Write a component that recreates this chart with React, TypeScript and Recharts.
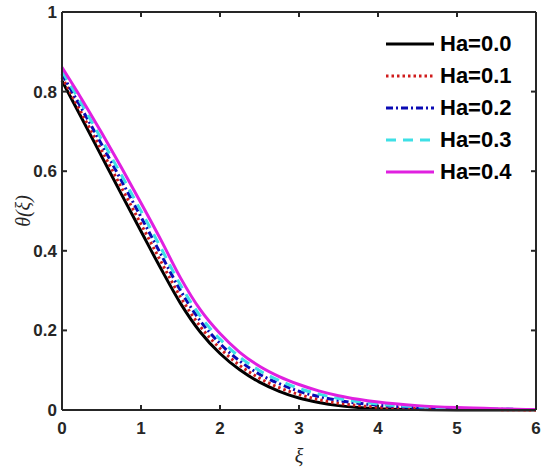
import { Legend, Line, LineChart, XAxis, YAxis } from "recharts";

// similarity variable
const xi = [0, 0.25, 0.5, 0.75, 1, 1.25, 1.5, 1.75, 2, 2.25, 2.5, 2.75, 3, 3.25, 3.5, 3.75, 4, 4.5, 5, 5.5, 6];

// theta(xi) for each Hartmann number
const ha00 = [0.827, 0.733, 0.638, 0.543, 0.449, 0.356, 0.268, 0.196, 0.142, 0.101, 0.07, 0.047, 0.03, 0.019, 0.011, 0.006, 0.003, 0.001, 0, 0, 0];
const ha01 = [0.836, 0.745, 0.653, 0.56, 0.467, 0.374, 0.284, 0.21, 0.155, 0.112, 0.08, 0.056, 0.039, 0.026, 0.017, 0.011, 0.007, 0.004, 0.002, 0.001, 0];
const ha02 = [0.844, 0.757, 0.668, 0.577, 0.485, 0.392, 0.3, 0.224, 0.167, 0.123, 0.09, 0.066, 0.047, 0.034, 0.024, 0.017, 0.012, 0.006, 0.003, 0.002, 0.001];
const ha03 = [0.851, 0.768, 0.68, 0.591, 0.5, 0.408, 0.314, 0.236, 0.178, 0.133, 0.099, 0.074, 0.054, 0.04, 0.029, 0.021, 0.015, 0.008, 0.004, 0.002, 0.001];
const ha04 = [0.861, 0.781, 0.697, 0.61, 0.52, 0.428, 0.332, 0.252, 0.192, 0.145, 0.11, 0.084, 0.064, 0.048, 0.036, 0.027, 0.02, 0.011, 0.006, 0.003, 0.001];

const xTicks = [0, 1, 2, 3, 4, 5, 6];
const yTicks = [0, 0.2, 0.4, 0.6, 0.8, 1];

const data = xi.map((x, i) => ({
  xi: x,
  ha00: ha00[i],
  ha01: ha01[i],
  ha02: ha02[i],
  ha03: ha03[i],
  ha04: ha04[i],
}));

// the last curve sits on the mirrored (top/right) axes so the box axes get drawn;
// both pairs share the same fixed domains
const series = [
  { key: "ha00", name: "Ha=0.0", color: "#000000", dash: undefined, xId: 0, yId: 0 },
  { key: "ha01", name: "Ha=0.1", color: "#d01c1c", dash: "2.5 3", xId: 0, yId: 0 },
  { key: "ha02", name: "Ha=0.2", color: "#0a0ab4", dash: "7 3 2 3", xId: 0, yId: 0 },
  { key: "ha03", name: "Ha=0.3", color: "#3ee0e6", dash: "10 7", xId: 0, yId: 0 },
  { key: "ha04", name: "Ha=0.4", color: "#e020e0", dash: undefined, xId: "top", yId: "right" },
];

const AXIS = "#262626";
const tickStyle = {
  fill: AXIS,
  fontSize: 17,
  fontWeight: "bold",
  fontFamily: "'Liberation Sans', Arial, sans-serif",
};
// mirrored axes keep their labels but paint them transparent
const hiddenTick = { fill: "transparent", fontSize: 6 };

function LegendBox() {
  return (
    <div style={{ fontFamily: "'Liberation Sans', Arial, sans-serif" }}>
      {series.map((s) => (
        <div key={s.key} style={{ display: "flex", alignItems: "center", height: 32 }}>
          <svg width={50} height={32}>
            <line
              x1={0}
              x2={48}
              y1={16}
              y2={16}
              stroke={s.color}
              strokeWidth={3}
              strokeDasharray={s.dash}
            />
          </svg>
          <span style={{ fontSize: 22, fontWeight: "bold", color: "#000", marginLeft: 4, lineHeight: "32px" }}>
            {s.name}
          </span>
        </div>
      ))}
    </div>
  );
}

export default function App() {
  return (
    <div style={{ position: "absolute", left: 0, top: 0, width: 550, height: 473, background: "#fff" }}>
      <LineChart width={550} height={473} data={data} margin={{ top: 0, right: 0, bottom: 23, left: 12 }}>
        <XAxis
          dataKey="xi"
          type="number"
          domain={[0, 6]}
          ticks={xTicks}
          height={40}
          stroke={AXIS}
          strokeWidth={2}
          tickSize={-5}
          tickMargin={17}
          tick={tickStyle}
          label={(props: any) => {
            const vb = props.viewBox;
            return (
              <text
                x={vb.x + vb.width / 2}
                y={vb.y + 46}
                textAnchor="middle"
                dominantBaseline="central"
                fontFamily="'Liberation Serif', 'Times New Roman', serif"
                fontStyle="italic"
                fontSize={20}
                fill={AXIS}
              >
                ξ
              </text>
            );
          }}
        />
        <XAxis
          xAxisId="top"
          orientation="top"
          dataKey="xi"
          type="number"
          domain={[0, 6]}
          ticks={xTicks}
          height={12}
          stroke={AXIS}
          strokeWidth={2}
          tickSize={-5}
          tick={hiddenTick}
        />
        <YAxis
          type="number"
          domain={[0, 1]}
          ticks={yTicks}
          width={50}
          stroke={AXIS}
          strokeWidth={2}
          tickSize={-5}
          tickMargin={10}
          tick={tickStyle}
          label={(props: any) => {
            const vb = props.viewBox;
            const cx = vb.x + 11;
            const cy = vb.y + vb.height / 2;
            return (
              <text
                x={cx}
                y={cy}
                textAnchor="middle"
                dominantBaseline="central"
                transform={`rotate(-90, ${cx}, ${cy})`}
                fontFamily="'Liberation Serif', 'Times New Roman', serif"
                fontStyle="italic"
                fontSize={20}
                fill={AXIS}
              >
                θ(ξ)
              </text>
            );
          }}
        />
        <YAxis
          yAxisId="right"
          orientation="right"
          type="number"
          domain={[0, 1]}
          ticks={yTicks}
          width={14}
          stroke={AXIS}
          strokeWidth={2}
          tickSize={-5}
          tick={hiddenTick}
        />
        {series.map((s) => (
          <Line
            key={s.key}
            xAxisId={s.xId}
            yAxisId={s.yId}
            type="monotone"
            dataKey={s.key}
            name={s.name}
            stroke={s.color}
            strokeWidth={3}
            strokeDasharray={s.dash}
            dot={false}
            activeDot={false}
            isAnimationActive={false}
          />
        ))}
        <Legend
          layout="vertical"
          align="center"
          verticalAlign="middle"
          wrapperStyle={{ top: 28, left: 386, width: "auto" }}
          content={() => <LegendBox />}
        />
      </LineChart>
    </div>
  );
}
